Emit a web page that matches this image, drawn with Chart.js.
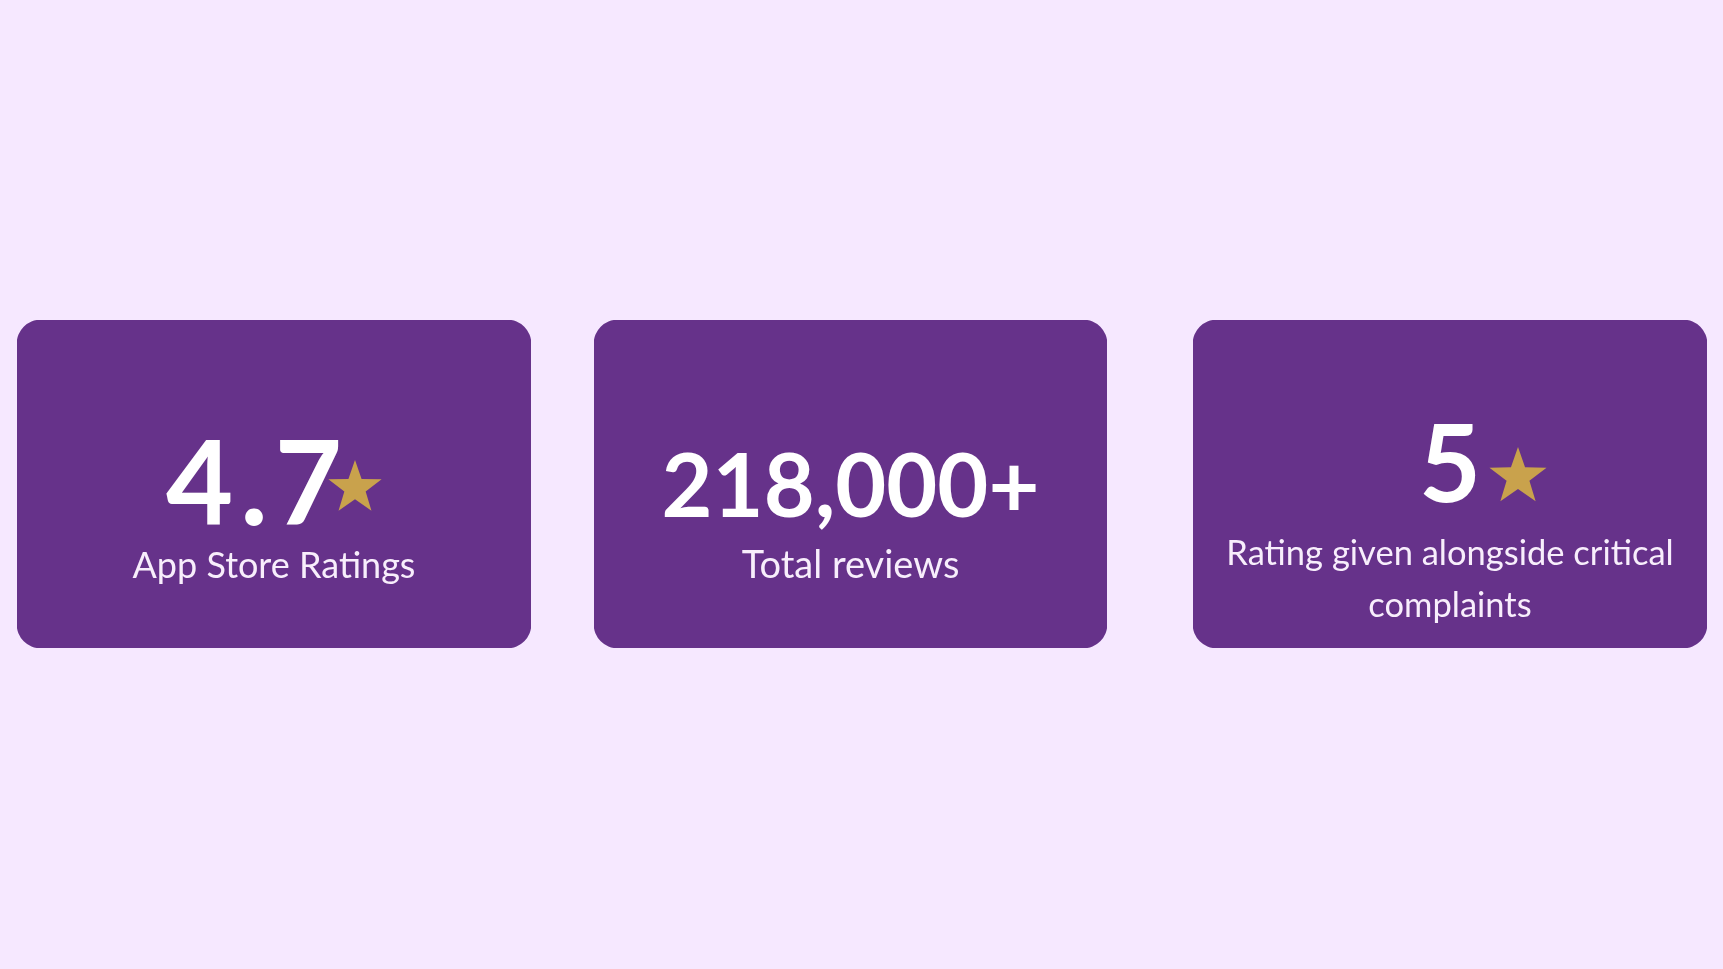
<!DOCTYPE html>
<html>
<head>
<meta charset="utf-8">
<script src="https://cdn.jsdelivr.net/npm/chart.js@4.4.1/dist/chart.umd.min.js"></script>
<style>
  html, body { margin: 0; padding: 0; background: #F6E8FF; width: 1723px; height: 969px; overflow: hidden; }
  .card { position: absolute; top: 320px; height: 328px; }
  #c0 { left: 17px; width: 514px; }
  #c1 { left: 594px; width: 513px; }
  #c2 { left: 1193px; width: 514px; }
</style>
</head>
<body>
<div class="card" id="c0"><canvas id="k0"></canvas></div>
<div class="card" id="c1"><canvas id="k1"></canvas></div>
<div class="card" id="c2"><canvas id="k2"></canvas></div>
<script>
// ---- data ----
const categories = ['App Store Ratings', 'Total reviews', 'Rating given alongside critical complaints'];
const values = [4.7, 218000, 5];
const valueSuffix = ['', '+', ''];
const starred = [true, false, true];

// ---- styling / layout (not data) ----
const CARD_COLOR = '#66328A';
const STAR_COLOR = '#C9A24C';
const FONT = 'Lato, "Noto Sans", sans-serif';
const layout = [
  { numSize: 116, numSpacing: 7, numBase: 205, numDx: -20, starR: 28, starDx: 81, starCy: 168, subSize: 36, subBase: 258, lineH: 52 },
  { numSize: 88,  numSpacing: 0, numBase: 197, numDx: 0,   starR: 0,  starDx: 0,  starCy: 0,   subSize: 38, subBase: 258, lineH: 52 },
  { numSize: 107, numSpacing: 0, numBase: 182, numDx: 0,   starR: 30, starDx: 68, starCy: 157, subSize: 34.5, subBase: 245, lineH: 52 }
];

function drawStar(ctx, cx, cy, R) {
  const r = R * 0.40;
  ctx.beginPath();
  for (let k = 0; k < 10; k++) {
    const ang = -Math.PI / 2 + k * Math.PI / 5;
    const rad = k % 2 === 0 ? R : r;
    const px = cx + rad * Math.cos(ang), py = cy + rad * Math.sin(ang);
    if (k === 0) ctx.moveTo(px, py); else ctx.lineTo(px, py);
  }
  ctx.closePath();
  ctx.fillStyle = STAR_COLOR;
  ctx.fill();
}

function wrap(ctx, text, maxW) {
  const words = text.split(' ');
  const lines = [];
  let cur = '';
  for (const w of words) {
    const t = cur ? cur + ' ' + w : w;
    if (ctx.measureText(t).width > maxW && cur) { lines.push(cur); cur = w; }
    else cur = t;
  }
  if (cur) lines.push(cur);
  return lines;
}

const cardText = {
  id: 'cardText',
  afterDatasetsDraw(chart, args, opts) {
    const i = opts.index;
    const L = layout[i];
    const ctx = chart.ctx;
    const bar = chart.getDatasetMeta(0).data[0];
    const p = bar.getProps(['x', 'y', 'base', 'width'], true);
    const top = Math.min(p.y, p.base);
    const cx = p.x;
    ctx.save();
    ctx.textBaseline = 'alphabetic';
    // number (left-aligned from measured width so letter spacing stays centred)
    const numStr = values[i].toLocaleString('en-US') + valueSuffix[i];
    ctx.font = 'bold ' + L.numSize + 'px ' + FONT;
    ctx.fillStyle = '#FFFFFF';
    ctx.textAlign = 'left';
    let w = 0;
    const chars = numStr.split('');
    chars.forEach((c, k) => { w += ctx.measureText(c).width + (k < chars.length - 1 ? L.numSpacing : 0); });
    let xx = cx + L.numDx - w / 2;
    chars.forEach(c => { ctx.fillText(c, xx, top + L.numBase); xx += ctx.measureText(c).width + L.numSpacing; });
    if (starred[i]) drawStar(ctx, cx + L.starDx, top + L.starCy, L.starR);
    // subtitle
    ctx.textAlign = 'center';
    ctx.font = L.subSize + 'px ' + FONT;
    ctx.fillStyle = '#F8EEFC';
    const lines = wrap(ctx, categories[i], p.width - 40);
    lines.forEach((ln, j) => ctx.fillText(ln, cx, top + L.subBase + j * L.lineH));
    ctx.restore();
  }
};

function makeCard(i) {
  return new Chart(document.getElementById('k' + i), {
    type: 'bar',
    data: {
      labels: [categories[i]],
      datasets: [{
        data: [[0, 1]],
        backgroundColor: CARD_COLOR,
        borderRadius: 24,
        borderSkipped: false,
        borderWidth: 0,
        categoryPercentage: 1,
        barPercentage: 1
      }]
    },
    options: {
      responsive: true,
      maintainAspectRatio: false,
      animation: false,
      layout: { padding: 0 },
      plugins: { legend: { display: false }, tooltip: { enabled: false }, cardText: { index: i } },
      scales: {
        x: { display: false, offset: true, grid: { display: false } },
        y: { display: false, min: 0, max: 1 }
      }
    },
    plugins: [cardText]
  });
}

const start = () => { for (let i = 0; i < 3; i++) makeCard(i); };
if (document.fonts && document.fonts.load) {
  Promise.all([document.fonts.load('bold 100px Lato'), document.fonts.load('38px Lato')]).then(start, start);
} else start();
</script>
</body>
</html>
